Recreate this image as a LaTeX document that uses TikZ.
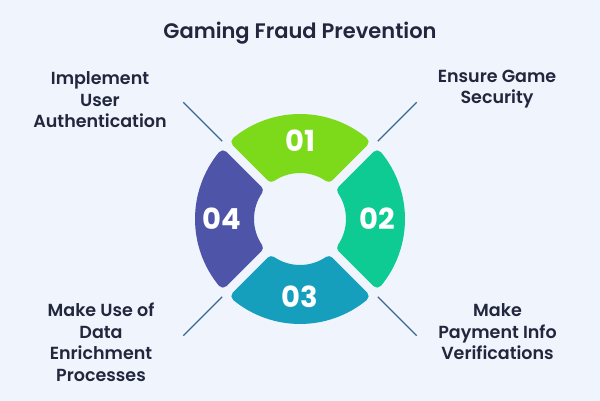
\documentclass[tikz,border=0pt]{standalone}
\usepackage{fontspec}
\setmainfont{Poppins}
\newfontfamily\titlefont{Poppins SemiBold}
\newfontfamily\labelfont{Poppins SemiBold}
\definecolor{bg}{HTML}{EFF4FD}
\definecolor{ink}{HTML}{22273D}
\definecolor{tickblue}{HTML}{3A6797}
\definecolor{one}{HTML}{7DDA1A}
\definecolor{two}{HTML}{0ECB93}
\definecolor{three}{HTML}{159FBD}
\definecolor{four}{HTML}{4E54A8}

\begin{document}
\begin{tikzpicture}[x=1pt,y=1pt,
  seg/.style={line width=10pt, line join=round},
  num/.style={text=white, font=\fontsize{29}{29}\selectfont\bfseries},
  lbl/.style={text=ink, align=center, font=\labelfont\fontsize{17.5}{21.5}\selectfont},
  tick/.style={draw=tickblue, line width=1.4pt}]
\fill [bg] (0,0) rectangle (600,401);
\node [text=ink, font=\titlefont\fontsize{21}{21}\selectfont] (title) at (300,368) {Gaming Fraud Prevention};

\begin{scope}[shift={(300,182)}]
% ring, one piece per step
\filldraw [seg, fill=one, draw=one] (50.45:100) arc [start angle=50.45, end angle=129.55, radius=100pt]
  -- (124.27:51) arc [start angle=124.27, end angle=55.73, radius=51pt] -- cycle;
\filldraw [seg, fill=two, draw=two] (-39.55:100) arc [start angle=-39.55, end angle=39.55, radius=100pt]
  -- (34.27:51) arc [start angle=34.27, end angle=-34.27, radius=51pt] -- cycle;
\filldraw [seg, fill=three, draw=three] (230.45:100) arc [start angle=230.45, end angle=309.55, radius=100pt]
  -- (304.27:51) arc [start angle=304.27, end angle=235.73, radius=51pt] -- cycle;
\filldraw [seg, fill=four, draw=four] (140.45:100) arc [start angle=140.45, end angle=219.55, radius=100pt]
  -- (214.27:51) arc [start angle=214.27, end angle=145.73, radius=51pt] -- cycle;

\node [num] (n1) at (90:78) {01};
\node [num] (n2) at (0:77) {02};
\node [num] (n3) at (270:78) {03};
\node [num] (n4) at (180:78) {04};

\coordinate (t1a) at (45:110);  \coordinate (t1b) at (45:165);
\coordinate (t2a) at (-45:110); \coordinate (t2b) at (-45:165);
\coordinate (t3a) at (225:110); \coordinate (t3b) at (225:165);
\coordinate (t4a) at (135:110); \coordinate (t4b) at (135:165);
\end{scope}

\draw [tick] (t1a) -- (t1b);
\draw [tick] (t2a) -- (t2b);
\draw [tick] (t3a) -- (t3b);
\draw [tick] (t4a) -- (t4b);

\node [lbl] (step1) at (497,312) {Ensure Game\\Security};
\node [lbl] (step2) at (497.5,69) {Make\\Payment Info\\Verifications};
\node [lbl] (step3) at (101,58.6) {Make Use of\\Data\\Enrichment\\Processes};
\node [lbl] (step4) at (100,301) {Implement\\User\\Authentication};
\end{tikzpicture}
\end{document}
